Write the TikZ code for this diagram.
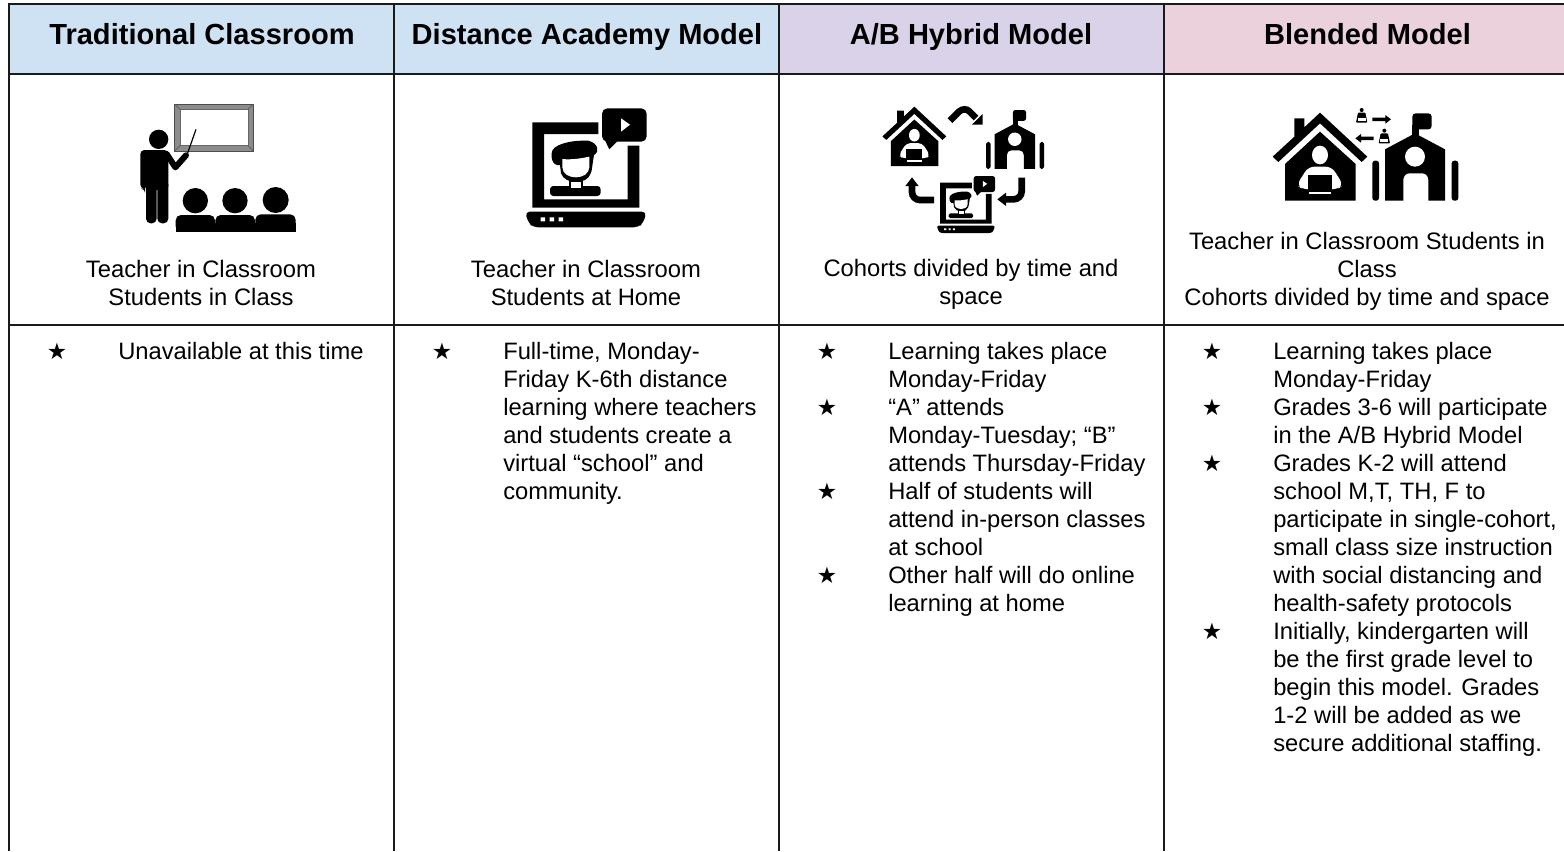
\documentclass[tikz,border=0pt]{standalone}
\usepackage{fontspec}
\setmainfont{Liberation Sans}
\newfontfamily\starfont{DejaVu Sans}
\definecolor{hblue}{HTML}{CFE2F3}
\definecolor{hpurple}{HTML}{D9D2E9}
\definecolor{hpink}{HTML}{EAD1DC}
\definecolor{gridc}{HTML}{1A1A1A}
\definecolor{framegray}{HTML}{8C8C8C}
\tikzset{
  headtext/.style={font=\fontsize{21.8}{25}\selectfont\bfseries,anchor=base,inner sep=0pt},
  captext/.style={font=\fontsize{17.85}{21}\selectfont,align=center,anchor=center,inner sep=0pt},
  bullettext/.style={font=\fontsize{17.8}{21}\selectfont,align=left,anchor=north west,inner sep=0pt},
  starmark/.style={font=\fontsize{17}{18}\selectfont\starfont,anchor=center,inner sep=0pt},
  gridline/.style={draw=gridc,line width=1.6pt},
  icon/.style={shift={#1},scale=1/3}
}
% laptop with presenter; #1 = pt per local unit
\newcommand{\LaptopIcon}[1]{%
  \fill[black] (97,97) -- (295,97) -- (295,132) -- (132,132) -- (132,328) -- (383,328) -- (383,167) -- (418,167) -- (418,353) -- (97,353) -- cycle;
  \fill[black,rounded corners={#1*14pt}] (75,365) -- (440,365) -- (430,398) -- (415,412) -- (100,412) -- (85,398) -- cycle;
  \fill[white] (122,382) rectangle (135,394) (149,382) rectangle (162,394) (176,382) rectangle (189,394);
  \fill[black,rounded corners={#1*16pt}] (306,55) -- (440,55) -- (440,155) -- (306,155) -- cycle;
  \fill[black] (312,145) -- (328,178) -- (356,150) -- cycle;
  \fill[white] (363,85) -- (390,104) -- (363,125) -- cycle;
  \fill[black,rounded corners={#1*10pt}] (150,318) -- (150,288) -- (302,288) -- (302,318) -- cycle;
  \fill[black] (206,268) rectangle (250,292);
  \fill[black] (180,225) .. controls (155,230) and (150,195) .. (158,180) .. controls (170,160) and (220,150) .. (265,152) .. controls (295,160) and (300,185) .. (282,195) .. controls (275,235) and (277,240) .. (272,250) .. controls (262,285) and (195,285) .. (183,250) -- cycle;
  \fill[white] (187,207) .. controls (215,210) and (245,205) .. (268,200) -- (268,232) .. controls (266,272) and (189,272) .. (187,232) -- cycle;
  \fill[white] (213,276) rectangle (243,293);
}
% house with a person at a laptop; #1 = pt per local unit
\newcommand{\HouseIcon}[1]{%
  \fill[black] (38,200) -- (103,140) -- (103,85) -- (133,85) -- (133,112) -- (180,68) -- (322,200) -- (305,216) -- (180,100) -- (55,216) -- cycle;
  \fill[black] (180,125) -- (287,222) -- (287,332) -- (75,332) -- (75,222) -- cycle;
  \fill[white] (180,195) ellipse (24 and 28);
  \fill[white,rounded corners={#1*18pt}] (145,230) -- (215,230) -- (250,285) -- (232,298) -- (128,298) -- (110,285) -- cycle;
  \fill[black] (145,255) rectangle (215,302);
  \fill[white] (147,306) rectangle (213,312);
}
% school building with a flag; #1 = pt per local unit
\newcommand{\SchoolIcon}[1]{%
  \fill[black,rounded corners={#1*10pt}] (457,70) -- (515,70) -- (515,118) -- (457,118) -- cycle;
  \fill[black] (457,105) rectangle (478,135);
  \fill[black] (465,130) -- (555,178) -- (555,332) -- (505,332) -- (505,270) .. controls (505,258) and (497,250) .. (487,250) -- (448,250) .. controls (438,250) and (430,258) .. (430,270) -- (430,332) -- (375,332) -- (375,178) -- cycle;
  \fill[white] (465,200) circle (30);
  \fill[black,rounded corners={#1*8pt}] (337,212) -- (357,212) -- (357,332) -- (337,332) -- cycle;
  \fill[black,rounded corners={#1*8pt}] (575,212) -- (595,212) -- (595,332) -- (575,332) -- cycle;
}
\begin{document}
\begin{tikzpicture}[x=0.75pt,y=-0.75pt]
\useasboundingbox (0,0) rectangle (1564,851);
% header fills
\fill[hblue] (8,4) rectangle (394,74);
\fill[hblue] (394,4) rectangle (779,74);
\fill[hpurple] (779,4) rectangle (1164,74);
\fill[hpink] (1164,4) rectangle (1564,74);
% grid
\draw[gridline] (8.7,851) -- (8.7,4) -- (1564,4);
\draw[gridline] (8.7,74) -- (1564,74);
\draw[gridline] (8.7,325) -- (1564,325);
\draw[gridline] (394,4) -- (394,851);
\draw[gridline] (779,4) -- (779,851);
\draw[gridline] (1164,4) -- (1164,851);
% headers
\node[headtext] (h1) at (202,44.2) {Traditional Classroom};
\node[headtext] (h2) at (587,44.2) {Distance Academy Model};
\node[headtext] (h3) at (971,44.2) {A/B Hybrid Model};
\node[headtext] (h4) at (1367.5,44.2) {Blended Model};
% captions
\node[captext] (c1) at (201,283) {Teacher in Classroom\\Students in Class};
\node[captext] (c2) at (586,283) {Teacher in Classroom\\Students at Home};
\node[captext] (c3) at (971,284.5) {Cohorts divided by time and\\space};
\node[captext] (c4) at (1367,271.5) {Teacher in Classroom Students in\\Class\\Cohorts divided by time and space};
% bullets, column 1
\node[starmark] (s11) at (57,351) {★};
\node[bullettext] (b11) at (118,342) {Unavailable at this time};
% column 2
\node[starmark] (s21) at (442,351) {★};
\node[bullettext] (b21) at (503,342) {Full-time, Monday-\\Friday K-6th distance\\learning where teachers\\and students create a\\virtual “school” and\\community.};
% column 3
\node[starmark] (s31) at (827,351) {★};
\node[bullettext] (b31) at (888,342) {Learning takes place\\Monday-Friday};
\node[starmark] (s32) at (827,407) {★};
\node[bullettext] (b32) at (888,398) {“A” attends\\Monday-Tuesday; “B”\\attends Thursday-Friday};
\node[starmark] (s33) at (827,491) {★};
\node[bullettext] (b33) at (888,482) {Half of students will\\attend in-person classes\\at school};
\node[starmark] (s34) at (827,575) {★};
\node[bullettext] (b34) at (888,566) {Other half will do online\\learning at home};
% column 4
\node[starmark] (s41) at (1212,351) {★};
\node[bullettext] (b41) at (1273,342) {Learning takes place\\Monday-Friday};
\node[starmark] (s42) at (1212,407) {★};
\node[bullettext] (b42) at (1273,398) {Grades 3-6 will participate\\in the A/B Hybrid Model};
\node[starmark] (s43) at (1212,463) {★};
\node[bullettext] (b43) at (1273,454) {Grades K-2 will attend\\school M,T, TH, F to\\participate in single-cohort,\\small class size instruction\\with social distancing and\\health-safety protocols};
\node[starmark] (s44) at (1212,631) {★};
\node[bullettext] (b44) at (1273,622) {Initially, kindergarten will\\be the first grade level to\\begin this model. Grades\\1-2 will be added as we\\secure additional staffing.};
% icon 1: teacher and class
\begin{scope}[icon={(100,80)}]
  \fill[framegray,draw=black!70,line width=0.6pt] (224,72) rectangle (460,213);
  \fill[white,draw=black!60,line width=0.5pt] (240,88) rectangle (444,197);
  \draw[black!65,line width=0.5pt] (224,72) -- (240,88) (460,72) -- (444,88) (224,213) -- (240,197) (460,213) -- (444,197);
  \fill[black] (176,178) circle (29);
  \fill[black,rounded corners=3pt] (121,326) -- (121,210) -- (205,210) -- (205,330) -- (135,330) -- (135,326) -- cycle;
  \fill[black,rounded corners=3.5pt] (138,300) -- (170,300) -- (170,430) -- (138,430) -- cycle;
  \fill[black,rounded corners=3.5pt] (172,300) -- (205,300) -- (205,430) -- (172,430) -- cycle;
  \draw[black,line width=4.5pt,line cap=round,line join=round] (200,222) -- (226,262) -- (258,226);
  \draw[black,line width=0.9pt] (262,222) -- (288,148);
  \fill[black] (286,362) circle (38);
  \fill[black] (405,362) circle (38);
  \fill[black] (527,360) circle (39);
  \fill[black,rounded corners=4pt] (227,455) -- (227,405) -- (345,405) -- (345,455) -- cycle;
  \fill[black,rounded corners=4pt] (346,455) -- (346,405) -- (465,405) -- (465,455) -- cycle;
  \fill[black,rounded corners=4pt] (466,455) -- (466,403) -- (587,403) -- (587,455) -- cycle;
  \fill[black] (227,430) rectangle (587,455);
\end{scope}
% icon 2: distance learning laptop
\begin{scope}[icon={(500,90)}]
  \LaptopIcon{0.25}
\end{scope}
% icon 3: hybrid cycle
\begin{scope}[shift={(873.9,91.4)},scale=0.2247]
  \HouseIcon{0.1685}
\end{scope}
\begin{scope}[shift={(910.3,94.3)},scale=0.2247]
  \SchoolIcon{0.1685}
\end{scope}
\begin{scope}[shift={(924.7,167.2)},scale=0.16]
  \LaptopIcon{0.12}
\end{scope}
\begin{scope}[icon={(870,90)}]
  \draw[black,line width=5pt] (240,92) -- (268,64) .. controls (278,56) and (290,56) .. (298,64) -- (318,84);
  \fill[black] (338,72) -- (338,104) -- (306,104) -- cycle;
  \draw[black,line width=5pt,rounded corners=6pt] (455,263) -- (455,328) -- (403,328);
  \fill[black] (408,308) -- (408,348) -- (382,328) -- cycle;
  \draw[black,line width=5pt,rounded corners=6pt] (192,330) -- (126,330) -- (126,282);
  \fill[black] (106,288) -- (146,288) -- (126,262) -- cycle;
\end{scope}
% icon 4: blended home and school
\begin{scope}[icon={(1260,90)}]
  \HouseIcon{0.25}
  \SchoolIcon{0.25}
  \fill[black] (305,60) circle (6);
  \fill[black,rounded corners=0.6pt] (294,68) -- (316,68) -- (322,98) -- (288,98) -- cycle;
  \fill[white] (293,84) rectangle (317,94);
  \fill[black] (337,83) -- (376,83) -- (376,75) -- (393,88) -- (376,101) -- (376,93) -- (337,93) -- cycle;
  \fill[black] (341,140) -- (303,140) -- (303,132) -- (286,145) -- (303,158) -- (303,150) -- (341,150) -- cycle;
  \fill[black] (373,122) circle (6);
  \fill[black,rounded corners=0.6pt] (362,130) -- (384,130) -- (390,160) -- (356,160) -- cycle;
  \fill[white] (361,146) rectangle (385,156);
\end{scope}
\end{tikzpicture}
\end{document}
